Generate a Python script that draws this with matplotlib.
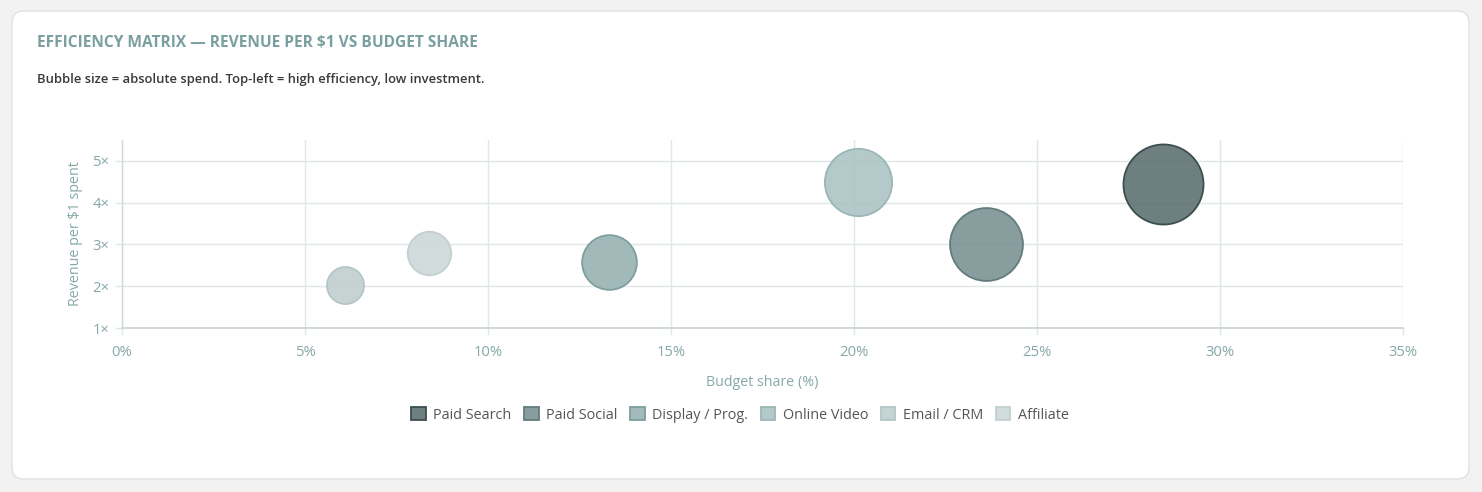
import matplotlib
matplotlib.use("Agg")
import matplotlib.pyplot as plt
from matplotlib.patches import FancyBboxPatch, Patch
from matplotlib.ticker import FuncFormatter
from matplotlib.colors import to_rgb

plt.rcParams['font.family'] = ['Open Sans', 'DejaVu Sans']

channels = ["Paid Search", "Paid Social", "Display / Prog.", "Online Video", "Email / CRM", "Affiliate"]
budget_share = [28.45, 23.6, 13.3, 20.1, 6.1, 8.4]       # % of budget
revenue_per_dollar = [4.45, 3.0, 2.58, 4.5, 2.03, 2.8]   # revenue per $1 spent
spend = [28.45, 23.6, 13.3, 20.1, 6.1, 8.4]               # relative absolute spend

fill_colors = ["#6e7f80", "#889d9e", "#a2baba", "#b4c9ca", "#c7d4d4", "#d3dcdd"]
edge_colors = ["#3c4e50", "#637d7e", "#7e9e9f", "#9cb6b7", "#b5c6c6", "#c3cfd0"]

x_ticks = [0, 5, 10, 15, 20, 25, 30, 35]
y_ticks = [1, 2, 3, 4, 5]

ALPHA = 0.9


def base_for(target, a=ALPHA):
    # colour that, drawn at alpha a on white, shows as target
    return tuple(min(1, max(0, (c - (1 - a)) / a)) for c in to_rgb(target))


W, H = 1482, 492
fig = plt.figure(figsize=(W / 100, H / 100), dpi=100)
fig.patch.set_facecolor("#f1f2f1")

# background card in pixel coordinates
bg = fig.add_axes([0, 0, 1, 1], zorder=-5)
bg.set_xlim(0, W)
bg.set_ylim(H, 0)
bg.axis("off")
bg.add_patch(FancyBboxPatch((12, 11), 1469 - 12, 479 - 11,
                            boxstyle="round,pad=0,rounding_size=12",
                            facecolor="white", edgecolor="#dde3e2", linewidth=1.0))

fig.text(37 / W, 1 - 43 / H, "EFFICIENCY MATRIX — REVENUE PER $1 VS BUDGET SHARE",
         fontsize=11.2, fontweight="bold", color="#7a9fa0", va="center", ha="left")
fig.text(37 / W, 1 - 79 / H, "Bubble size = absolute spend. Top-left = high efficiency, low investment.",
         fontsize=9.4, fontweight="semibold", color="#3a3a3a", va="center", ha="left")

ax = fig.add_axes([122 / W, 1 - 328 / H, (1403 - 122) / W, (328 - 140) / H], zorder=1)
ax.set_facecolor("none")
ax.set_xlim(0, 35)
ax.set_ylim(1, 5.5)

k = 116.7
sizes = [s * k for s in spend]
for i in range(len(channels)):
    fc = base_for(fill_colors[i]) + (ALPHA,)
    ax.scatter(budget_share[i], revenue_per_dollar[i], s=sizes[i],
               facecolor=[fc], edgecolor=edge_colors[i],
               linewidth=1.3, zorder=3)

ax.set_xticks(x_ticks)
ax.set_yticks(y_ticks)
ax.xaxis.set_major_formatter(FuncFormatter(lambda v, p: f"{int(v)}%"))
ax.yaxis.set_major_formatter(FuncFormatter(lambda v, p: f"{int(v)}×"))
ax.grid(True, color="#dfe7e7", linewidth=1.0, zorder=0)
ax.set_axisbelow(True)
for side in ["top", "right"]:
    ax.spines[side].set_visible(False)
ax.spines["left"].set_color("#cdd8d8")
ax.spines["bottom"].set_color("#c8d4d4")
ax.spines["left"].set_linewidth(1.0)
ax.spines["bottom"].set_linewidth(1.2)
ax.tick_params(axis="both", colors="#dfe7e7", labelcolor="#86a8a8",
               labelsize=10.7, length=5, width=1.0)
ax.tick_params(axis="x", pad=7)
ax.tick_params(axis="y", pad=4)

ax.set_xlabel("Budget share (%)", fontsize=10.3, color="#86a8a8", labelpad=11)
ax.set_ylabel("Revenue per $1 spent", fontsize=10.3, color="#86a8a8", labelpad=7)

handles = [Patch(facecolor=fill_colors[i], edgecolor=edge_colors[i], linewidth=1.3,
                 label=channels[i]) for i in range(len(channels))]
leg = fig.legend(handles=handles, loc="center", bbox_to_anchor=(740 / W, 1 - 415 / H),
                 ncol=6, frameon=False, fontsize=10.4, handlelength=1.0, handleheight=1.0,
                 handletextpad=0.5, columnspacing=0.9, labelcolor="#555555")

fig.savefig("out.png", dpi=100, facecolor=fig.get_facecolor())
